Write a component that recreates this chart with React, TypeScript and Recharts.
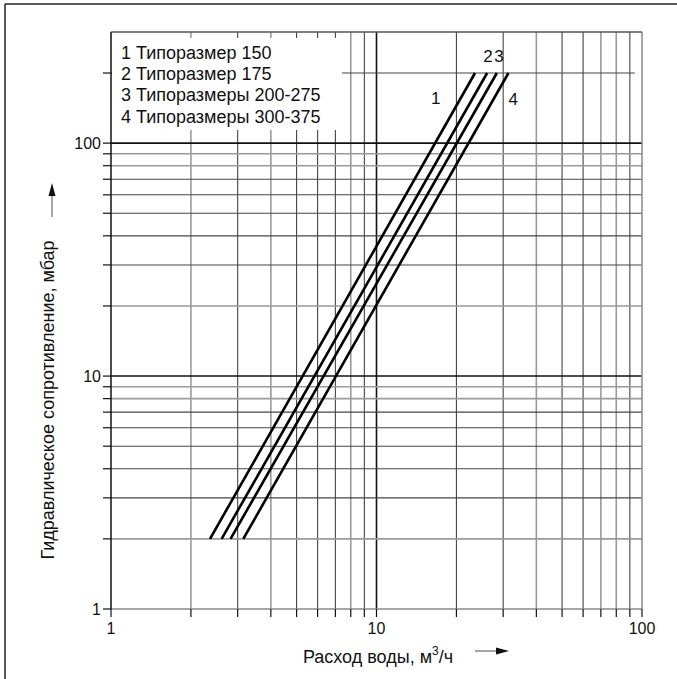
import {
  ComposedChart,
  Line,
  ReferenceDot,
  ReferenceLine,
  XAxis,
  YAxis,
} from "recharts";

const FONT = '"Liberation Sans", Arial, sans-serif';

// pressure drop (mbar) at both ends of each curve
const DROP = [2, 200];
// water flow (m3/h) at those pressure drops, per size
const FLOW_150 = [2.36, 23.5];
const FLOW_175 = [2.61, 26.1];
const FLOW_200 = [2.82, 28.4];
const FLOW_300 = [3.15, 31.4];

const LEGEND = [
  "1 Типоразмер 150",
  "2 Типоразмер 175",
  "3 Типоразмеры 200-275",
  "4 Типоразмеры 300-375",
];

const CURVE_NAMES = ["1", "2", "3", "4"];
const CURVE_LABEL_X = [16.7, 26.3, 28.9, 32.7];
const CURVE_LABEL_Y = [156, 236, 236, 154];

const X_TICKS = [1, 2, 3, 4, 5, 6, 7, 8, 9, 10, 20, 30, 40, 50, 60, 70, 80, 90, 100];
const Y_TICKS = [1, 2, 3, 4, 5, 6, 7, 8, 9, 10, 20, 30, 40, 50, 60, 70, 80, 90, 100, 200];
const X_LABELS = [1, 10, 100];
const Y_LABELS = [1, 10, 100];

const X_GRID = [2, 3, 4, 5, 6, 7, 8, 9, 10, 20, 30, 40, 50, 60, 70, 80, 90];
const Y_GRID = [2, 3, 4, 5, 6, 7, 8, 9, 10, 20, 30, 40, 50, 60, 70, 80, 90, 100, 200];

// grid lines that are printed in a lighter grey
const X_LIGHT = [2, 4, 8, 40, 70, 80];
const Y_LIGHT = [2, 8, 9, 20, 80, 90];

const series = [FLOW_150, FLOW_175, FLOW_200, FLOW_300].map((flow) =>
  DROP.map((y, i) => ({ x: flow[i], y }))
);

function gridStyle(v: number, light: number[]) {
  if (v === 10 || v === 100) return { stroke: "#111", strokeWidth: 1.6 };
  if (light.includes(v)) return { stroke: "#9a9a9a", strokeWidth: 1.6 };
  return { stroke: "#444", strokeWidth: 1.1 };
}

export default function App() {
  const tickFont = { fill: "#111", fontSize: 16, fontFamily: FONT };
  return (
    <div style={{ position: "absolute", left: 0, top: 0, width: 677, height: 679, background: "#fff" }}>
      <ComposedChart
        width={677}
        height={679}
        margin={{ top: 32, right: 35, bottom: 0, left: 0 }}
      >
        <XAxis
          dataKey="x"
          type="number"
          scale="log"
          domain={[1, 100]}
          allowDataOverflow
          ticks={X_TICKS}
          interval={0}
          height={70}
          tickSize={8}
          tickMargin={6}
          tick={tickFont}
          tickFormatter={(v) => (X_LABELS.includes(v) ? String(v) : "")}
          axisLine={{ stroke: "#888", strokeWidth: 1.5 }}
          tickLine={{ stroke: "#111", strokeWidth: 1.2 }}
        />
        <YAxis
          type="number"
          scale="log"
          domain={[1, 300]}
          allowDataOverflow
          ticks={Y_TICKS}
          interval={0}
          width={111}
          tickSize={8}
          tickMargin={2}
          tick={tickFont}
          tickFormatter={(v) => (Y_LABELS.includes(v) ? String(v) : "")}
          axisLine={{ stroke: "#111", strokeWidth: 1.5 }}
          tickLine={{ stroke: "#111", strokeWidth: 1.2 }}
        />
        {X_GRID.map((v) => (
          <ReferenceLine key={"x" + v} x={v} {...gridStyle(v, X_LIGHT)} />
        ))}
        {Y_GRID.map((v) =>
          v === 200 ? (
            <ReferenceLine
              key={"y" + v}
              segment={[{ x: 1, y: v }, { x: 94, y: v }]}
              {...gridStyle(v, Y_LIGHT)}
            />
          ) : (
            <ReferenceLine key={"y" + v} y={v} {...gridStyle(v, Y_LIGHT)} />
          )
        )}
        <ReferenceLine x={100} stroke="#888" strokeWidth={1.5} />
        <ReferenceLine y={300} stroke="#555" strokeWidth={1.5} />
        {series.map((d, i) => (
          <Line
            key={i}
            data={d}
            dataKey="y"
            type="linear"
            stroke="#000"
            strokeWidth={2.6}
            dot={false}
            isAnimationActive={false}
          />
        ))}
        {CURVE_NAMES.map((n, i) => (
          <ReferenceDot
            key={"l" + n}
            x={CURVE_LABEL_X[i]}
            y={CURVE_LABEL_Y[i]}
            r={0}
            shape={(p: any) => (
              <text
                x={p.cx}
                y={p.cy}
                dy={6}
                textAnchor="middle"
                fontSize={17}
                fontFamily={FONT}
                fill="#111"
              >
                {n}
              </text>
            )}
          />
        ))}
      </ComposedChart>
      <svg
        width={677}
        height={679}
        style={{ position: "absolute", left: 0, top: 0, pointerEvents: "none" }}
        fontFamily={FONT}
      >
        <line x1={5} y1={4} x2={677} y2={4} stroke="#222" strokeWidth={1.5} />
        <line x1={5} y1={4} x2={5} y2={679} stroke="#222" strokeWidth={1.5} />

        <rect x={112} y={38} width={230} height={92} fill="#fff" />
        {LEGEND.map((t, i) => (
          <text key={t} x={121} y={59 + i * 21.2} fontSize={18} fill="#111">
            {t}
          </text>
        ))}

        <text
          x={54}
          y={400}
          transform="rotate(-90 54 400)"
          textAnchor="middle"
          fontSize={18}
          fill="#111"
        >
          Гидравлическое сопротивление, мбар
        </text>
        <line x1={52} y1={217} x2={52} y2={195} stroke="#888" strokeWidth={1.5} />
        <polygon points="52,183 48.5,196 55.5,196" fill="#111" />

        <text x={378} y={663} textAnchor="middle" fontSize={18} fill="#111">
          Расход воды, м
          <tspan dy={-8} fontSize={12}>3</tspan>
          <tspan dy={8}>/ч</tspan>
        </text>
        <line x1={475} y1={651} x2={497} y2={651} stroke="#888" strokeWidth={1.5} />
        <polygon points="509,651 496,647.5 496,654.5" fill="#111" />
      </svg>
    </div>
  );
}
